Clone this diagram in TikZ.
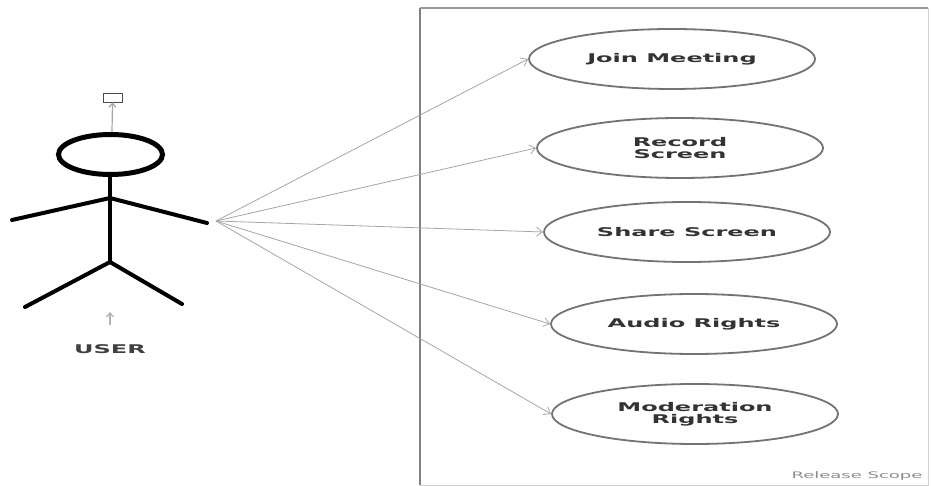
\documentclass[tikz,border=0pt]{standalone}
\usepackage{fontspec}
\usetikzlibrary{shapes.geometric,arrows.meta}
\newfontfamily\wfont[FakeStretch=2.0]{DejaVu Sans}
\begin{document}
\begin{tikzpicture}[x=1pt,y=-1pt,
  uc/.style={ellipse, draw=black!55, line width=1.8pt, minimum width=286pt, minimum height=60pt,
    inner sep=0pt, font=\wfont\bfseries\fontsize{12}{12.5}\selectfont, text=black!80, align=center},
  assoc/.style={draw=black!35, line width=0.8pt, -{Straight Barb[length=6pt,width=9pt]}},
  stick/.style={line width=4.5pt, line cap=round},
  garrow/.style={draw=black!35, line width=1.2pt, -{Straight Barb[length=4pt,width=7pt]}}]
\useasboundingbox (0,0) rectangle (932,486);
\fill[white] (0,0) rectangle (932,486);
% system boundary
\draw[black!18, line width=1pt] (928,8) -- (928,485) -- (420,485);
\draw[black!40, line width=1.5pt] (420,8) -- (928,8);
\draw[black!50, line width=2pt] (420,8) -- (420,485);
\node[font=\wfont\fontsize{9}{10}\selectfont, text=black!45, anchor=east] (scope) at (926,476) {Release Scope};
% use cases
\node[uc] (join) at (672,59) {Join Meeting};
\node[uc] (rec) at (680,148) {Record\\Screen};
\node[uc] (share) at (687,232) {Share Screen};
\node[uc] (audio) at (694,324) {Audio Rights};
\node[uc] (mod) at (695,414) {Moderation\\Rights};
% actor
\draw[line width=5pt] (110.5,154.5) ellipse [x radius=52, y radius=20];
\draw[stick] (110,176) -- (110,262);
\draw[stick, line width=4pt] (12,220) -- (110,198) -- (207,223);
\draw[stick, line width=4pt] (25,307) -- (110,262) -- (182,304);
\node[draw=black!70, line width=0.8pt, minimum width=19pt, minimum height=9pt, inner sep=0pt] (stereo) at (112.5,97.5) {};
\coordinate (headtop) at (112,132);
\draw[garrow] (headtop) -- (stereo.south);
\coordinate (a1) at (110,325);
\coordinate (a2) at (110,312);
\draw[garrow, draw=black!30] (a1) -- (a2);
\node[font=\wfont\bfseries\fontsize{12}{12}\selectfont, text=black!75] (user) at (110,349) {USER};
% associations
\coordinate (hand) at (216,221);
\foreach \t in {join,rec,share,audio,mod} \draw[assoc] (hand) -- (\t.west);
\end{tikzpicture}
\end{document}
